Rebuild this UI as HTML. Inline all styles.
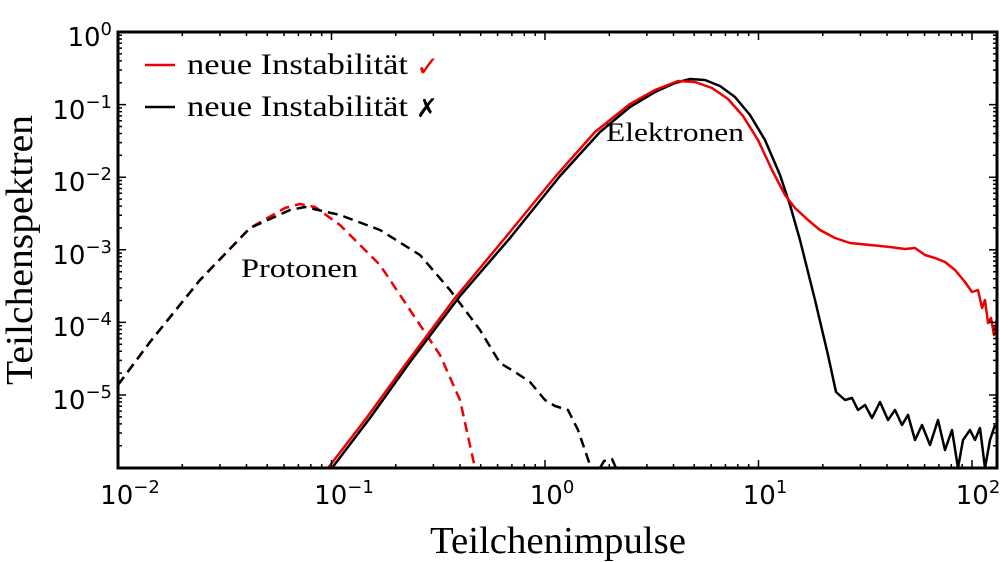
<!DOCTYPE html>
<html><head><style>body{margin:0;background:#fff}svg{display:block}</style></head><body>
<svg width="1000" height="562" viewBox="0 0 1000 562" xmlns="http://www.w3.org/2000/svg">
<g fill="none" stroke-width="2.5" stroke-linejoin="round">
<polyline stroke="#e00" stroke-dasharray="10,6" points="118,385 150,342 200,280 250,228 285,208 300,204 315,207 340,225 380,265 410,310 440,355 460,400 475,468"/>
<polyline stroke="#000" stroke-dasharray="10,6" points="118,385 150,342 200,280 250,228 290,210 305,207 340,215 380,230 420,255 450,290 480,330 500,363 515,372 530,382 545,400 555,406 568,410 578,430 590,465"/>
<polyline stroke="#000" stroke-dasharray="10,6" points="600,468 604,461 612,459 616,468"/>
<polyline stroke="#000" points="332,468 370,418 410,362 460,296 510,238 560,176 600,132 630,107 655,92 675,83 690,79 705,80 720,86 735,97 750,115 765,140 780,175 790,205 800,240 815,300 828,355 836,392 845,400 852,398 858,410 865,405 872,418 880,402 888,420 895,410 902,425 908,415 915,440 922,425 930,445 938,420 945,450 952,430 958,468 963,440 970,430 975,440 980,428 985,468 990,440 995,425"/>
<polyline stroke="#e00" points="328,468 365,420 405,365 455,298 505,238 555,177 595,132 630,104 655,90 678,81 695,82 712,88 728,99 743,116 758,140 772,170 785,195 795,208 808,220 820,230 835,238 850,243 870,245 890,247 905,249 915,248 925,255 935,258 945,262 955,270 965,282 972,292 978,290 982,308 985,300 988,323 991,318 994,335 997,318"/>
</g>
<g stroke="#000" stroke-width="1.5" fill="none">
<path d="M118 468v-8M331.5 468v-8M545 468v-8M758.5 468v-8M972 468v-8M118 32v8M331.5 32v8M545 32v8M758.5 32v8M972 32v8"/>
<path d="M182.3 468v-4M219.9 468v-4M246.5 468v-4M267.2 468v-4M284.1 468v-4M298.4 468v-4M310.8 468v-4M321.7 468v-4M395.8 468v-4M433.4 468v-4M460 468v-4M480.7 468v-4M497.6 468v-4M511.9 468v-4M524.3 468v-4M535.2 468v-4M609.3 468v-4M646.9 468v-4M673.5 468v-4M694.2 468v-4M711.1 468v-4M725.4 468v-4M737.8 468v-4M748.7 468v-4M822.8 468v-4M860.4 468v-4M887 468v-4M907.7 468v-4M924.6 468v-4M938.9 468v-4M951.3 468v-4M962.2 468v-4"/>
<path d="M182.3 32v4M219.9 32v4M246.5 32v4M267.2 32v4M284.1 32v4M298.4 32v4M310.8 32v4M321.7 32v4M395.8 32v4M433.4 32v4M460 32v4M480.7 32v4M497.6 32v4M511.9 32v4M524.3 32v4M535.2 32v4M609.3 32v4M646.9 32v4M673.5 32v4M694.2 32v4M711.1 32v4M725.4 32v4M737.8 32v4M748.7 32v4M822.8 32v4M860.4 32v4M887 32v4M907.7 32v4M924.6 32v4M938.9 32v4M951.3 32v4M962.2 32v4"/>
<path d="M118 395h8M118 322.4h8M118 249.8h8M118 177.2h8M118 104.6h8M997 395h-8M997 322.4h-8M997 249.8h-8M997 177.2h-8M997 104.6h-8"/>
<path d="M118 445.7h4M118 433h4M118 423.9h4M118 416.9h4M118 411.1h4M118 406.3h4M118 402h4M118 398.3h4M118 373.1h4M118 360.4h4M118 351.3h4M118 344.3h4M118 338.5h4M118 333.7h4M118 329.4h4M118 325.7h4M118 300.5h4M118 287.8h4M118 278.7h4M118 271.7h4M118 265.9h4M118 261.1h4M118 256.8h4M118 253.1h4M118 227.9h4M118 215.2h4M118 206.1h4M118 199.1h4M118 193.3h4M118 188.5h4M118 184.2h4M118 180.5h4M118 155.3h4M118 142.6h4M118 133.5h4M118 126.5h4M118 120.7h4M118 115.9h4M118 111.6h4M118 107.9h4M118 82.7h4M118 70h4M118 60.9h4M118 53.9h4M118 48.1h4M118 43.3h4M118 39h4M118 35.3h4"/>
<path d="M997 445.7h-4M997 433h-4M997 423.9h-4M997 416.9h-4M997 411.1h-4M997 406.3h-4M997 402h-4M997 398.3h-4M997 373.1h-4M997 360.4h-4M997 351.3h-4M997 344.3h-4M997 338.5h-4M997 333.7h-4M997 329.4h-4M997 325.7h-4M997 300.5h-4M997 287.8h-4M997 278.7h-4M997 271.7h-4M997 265.9h-4M997 261.1h-4M997 256.8h-4M997 253.1h-4M997 227.9h-4M997 215.2h-4M997 206.1h-4M997 199.1h-4M997 193.3h-4M997 188.5h-4M997 184.2h-4M997 180.5h-4M997 155.3h-4M997 142.6h-4M997 133.5h-4M997 126.5h-4M997 120.7h-4M997 115.9h-4M997 111.6h-4M997 107.9h-4M997 82.7h-4M997 70h-4M997 60.9h-4M997 53.9h-4M997 48.1h-4M997 43.3h-4M997 39h-4M997 35.3h-4"/>
</g>
<rect x="118" y="32" width="879" height="436" fill="none" stroke="#000" stroke-width="3"/>
<g font-family="DejaVu Sans, sans-serif" font-size="26" fill="#000">
<text x="112" y="46" text-anchor="end">10<tspan dy="-11" font-size="18">0</tspan></text>
<text x="112" y="119" text-anchor="end">10<tspan dy="-11" font-size="18">−1</tspan></text>
<text x="112" y="191" text-anchor="end">10<tspan dy="-11" font-size="18">−2</tspan></text>
<text x="112" y="264" text-anchor="end">10<tspan dy="-11" font-size="18">−3</tspan></text>
<text x="112" y="336" text-anchor="end">10<tspan dy="-11" font-size="18">−4</tspan></text>
<text x="112" y="409" text-anchor="end">10<tspan dy="-11" font-size="18">−5</tspan></text>
<text x="130" y="504" text-anchor="middle">10<tspan dy="-11" font-size="18">−2</tspan></text>
<text x="344" y="504" text-anchor="middle">10<tspan dy="-11" font-size="18">−1</tspan></text>
<text x="552" y="504" text-anchor="middle">10<tspan dy="-11" font-size="18">0</tspan></text>
<text x="765" y="504" text-anchor="middle">10<tspan dy="-11" font-size="18">1</tspan></text>
<text x="978" y="504" text-anchor="middle">10<tspan dy="-11" font-size="18">2</tspan></text>
</g>
<g font-family="Liberation Serif, serif" fill="#000">
<text x="430" y="553" font-size="38" textLength="256" lengthAdjust="spacingAndGlyphs">Teilchenimpulse</text>
<text transform="translate(32,385) rotate(-90)" font-size="38" textLength="270" lengthAdjust="spacingAndGlyphs">Teilchenspektren</text>
<text x="241" y="277" font-size="26" textLength="117" lengthAdjust="spacingAndGlyphs">Protonen</text>
<text x="606" y="141" font-size="26" textLength="138" lengthAdjust="spacingAndGlyphs">Elektronen</text>
<text x="187" y="74" font-size="30" textLength="221" lengthAdjust="spacingAndGlyphs">neue Instabilität</text>
<text x="187" y="116" font-size="30" textLength="221" lengthAdjust="spacingAndGlyphs">neue Instabilität</text>
</g>
<line x1="145" y1="65" x2="175" y2="65" stroke="#e00" stroke-width="2.5"/>
<line x1="145" y1="107" x2="175" y2="107" stroke="#000" stroke-width="2.5"/>
<text x="416" y="76" font-family="DejaVu Sans, sans-serif" font-size="28" fill="#e00" font-weight="bold">✓</text>
<text x="416" y="117" font-family="DejaVu Sans, sans-serif" font-size="26" fill="#000" font-weight="bold">✗</text>
</svg>
</body></html>
